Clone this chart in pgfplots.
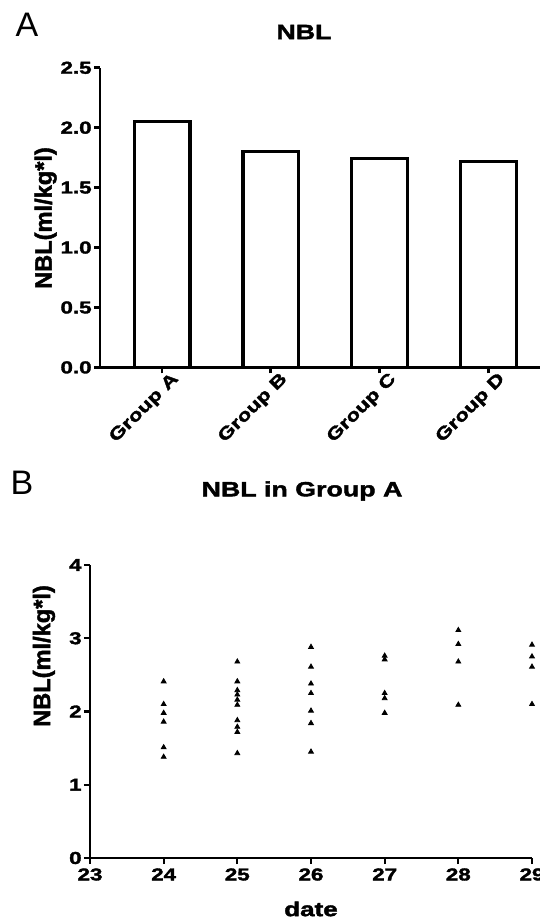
\documentclass[border=0pt]{standalone}
\usepackage{fontspec}
\setmainfont{Liberation Sans}
\newfontfamily\wbf[FakeStretch=1.3,FakeBold=2]{Liberation Sans Bold}
\newfontfamily\lbf[FakeBold=1.8]{Liberation Sans Bold}
\usepackage{pgfplots}
\pgfplotsset{compat=1.18}
\begin{document}
\begin{tikzpicture}
\useasboundingbox (0,0) rectangle (270pt,459pt);
% panel labels and titles
\node at (13.5pt,446.5pt) {\fontsize{17}{18}\selectfont A};
\node at (152pt,443pt) {\wbf\fontsize{10.3}{11}\selectfont NBL};
\node at (11pt,217.5pt) {\fontsize{17}{18}\selectfont B};
\node at (151pt,213.5pt) {\wbf\fontsize{10.3}{11}\selectfont NBL in Group A};
\node[rotate=90] at (22.8pt,350pt) {\lbf\fontsize{11.8}{12}\selectfont NBL(ml/kg*l)};
\node[rotate=90] at (22pt,131pt) {\lbf\fontsize{11.8}{12}\selectfont NBL(ml/kg*l)};
\node at (155.5pt,4.5pt) {\wbf\fontsize{10}{11}\selectfont date};
\begin{axis}[
  at={(50pt,275.3pt)}, anchor=south west,
  scale only axis, width=220pt, height=149.8pt,
  axis lines=left, axis line style={-, line width=1.4pt},
  xmin=-0.57, xmax=3.474, ymin=0, ymax=2.5,
  ytick={0,0.5,1,1.5,2,2.5},
  xtick={0,1,2,3}, xticklabels={Group A,Group B,Group C,Group D},
  /pgf/number format/assume math mode=true,
  yticklabel style={/pgf/number format/fixed, /pgf/number format/fixed zerofill, /pgf/number format/precision=1},
  ticklabel style={font=\wbf\fontsize{8.6}{9}\selectfont},
  xticklabel style={rotate=45, anchor=north east, inner sep=1pt, xshift=5pt, yshift=-1pt},
  yticklabel style={inner sep=1pt},
  tick style={line width=1.4pt, black},
  major tick length=3pt, tick align=outside,
  ybar, bar width=27.9pt,
]
\addplot[fill=white, draw=black, line width=1.6pt] coordinates {(0,2.05) (1,1.80) (2,1.74) (3,1.72)};
\end{axis}
\begin{axis}[
  at={(45pt,30pt)}, anchor=south west,
  scale only axis, width=221pt, height=146.5pt,
  axis lines=left, axis line style={-, line width=1.1pt},
  xmin=23, xmax=29, ymin=0, ymax=4,
  xtick={23,24,25,26,27,28,29}, ytick={0,1,2,3,4},
  /pgf/number format/assume math mode=true,
  ticklabel style={font=\wbf\fontsize{8.6}{9}\selectfont, inner sep=1pt},
  xticklabel style={yshift=-1pt},
  tick style={line width=1.1pt, black},
  major tick length=3pt, tick align=outside,
  clip=false,
]
\addplot[only marks, mark=triangle*, mark size=1.4pt, black] coordinates {
(24,2.41) (24,2.10) (24,1.98) (24,1.86) (24,1.51) (24,1.38)
(25,2.68) (25,2.41) (25,2.29) (25,2.23) (25,2.16) (25,2.09) (25,1.88) (25,1.79) (25,1.72) (25,1.43)
(26,2.88) (26,2.61) (26,2.38) (26,2.25) (26,2.01) (26,1.84) (26,1.45)
(27,2.76) (27,2.71) (27,2.25) (27,2.18) (27,1.98)
(28,3.11) (28,2.92) (28,2.68) (28,2.09)
(29,2.91) (29,2.75) (29,2.61) (29,2.10)
};
\end{axis}
\end{tikzpicture}
\end{document}
